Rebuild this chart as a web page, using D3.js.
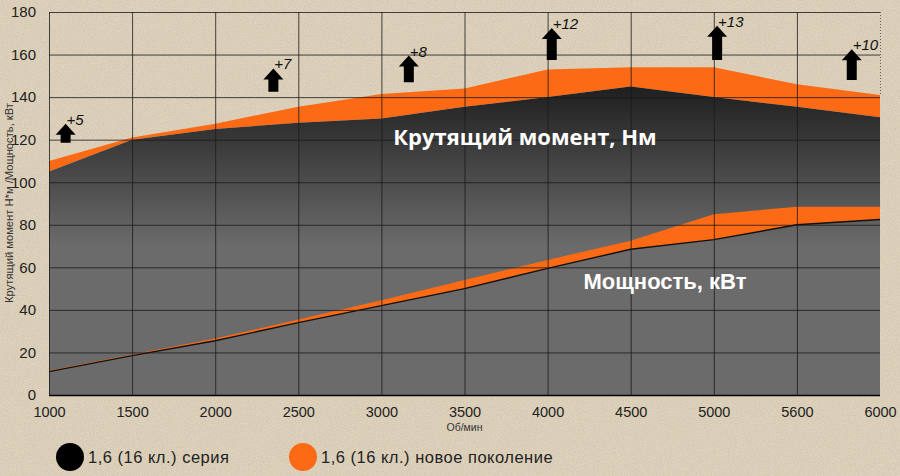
<!DOCTYPE html>
<html lang="ru">
<head>
<meta charset="utf-8">
<title>Крутящий момент и мощность</title>
<script src="https://d3js.org/d3.v7.min.js"></script>
<style>
  body { margin: 0; background: #e0d4be; }
  svg { display: block; }
</style>
</head>
<body>
<svg id="chart" width="900" height="476"></svg>
<script>
// rpm categories (equally spaced on the picture)
var rpm = ["1000", "1500", "2000", "2500", "3000", "3500", "4000", "4500", "5000", "5600", "6000"]
// torque, N*m
var torqueOld = [105, 120, 125, 128, 130, 135.5, 140, 145, 140, 135.5, 130.5]
var torqueNew = [110, 121, 127.5, 135.5, 141.5, 144, 153, 154, 154, 146, 141]
// power, kW
var powerOld = [11, 18.5, 25.5, 34, 42, 50, 59.5, 68.5, 73, 80, 82.5]
var powerNew = [11.5, 19, 26.5, 35.5, 44.5, 54, 63.5, 72.5, 85, 88.5, 88.5]
var yTicks = [0, 20, 40, 60, 80, 100, 120, 140, 160, 180]

// gain markers: position as fractional category index, arrow base / tip in chart units
var gainText = ["+5", "+7", "+8", "+12", "+13", "+10"]
var gainPos = [0.2, 2.7, 4.33, 6.05, 8.04, 9.66]
var gainBase = [118.5, 142.5, 147, 157.5, 157.5, 148]
var gainTip = [127.5, 153.5, 159.5, 172.5, 173.5, 162.5]

var legendNames = ["1,6 (16 кл.) серия", "1,6 (16 кл.) новое поколение"]
var legendColors = ["#000000", "#fd6a15"]

var orange = "#fd6a15"
var margin = {top: 12, left: 49, right: 20, bottom: 82}
var W = 900, H = 476

var svg = d3.select("#chart")
var defs = svg.append("defs")

// paper texture
var f = defs.append("filter").attr("id", "noise").attr("x", 0).attr("y", 0).attr("width", "100%").attr("height", "100%")
f.append("feTurbulence").attr("type", "fractalNoise").attr("baseFrequency", 0.85).attr("numOctaves", 2).attr("seed", 3)
f.append("feColorMatrix").attr("type", "matrix")
  .attr("values", "0 0 0 0 0.45  0 0 0 0 0.38  0 0 0 0 0.28  0 0 0 -1.4 1.0")

var grad = defs.append("linearGradient").attr("id", "dark")
  .attr("gradientUnits", "userSpaceOnUse")
  .attr("x1", 0).attr("x2", 0)

svg.append("rect").attr("width", W).attr("height", H).attr("fill", "#e0d4be")
svg.append("rect").attr("width", W).attr("height", H).attr("filter", "url(#noise)").attr("opacity", 0.4)

var x = d3.scalePoint().domain(rpm).range([margin.left, 880])
var y = d3.scaleLinear().domain([0, 180]).range([395, margin.top])
var step = x.step()
function xi(i) { return margin.left + i * step }

grad.attr("y1", y(146)).attr("y2", y(70))
grad.append("stop").attr("offset", 0).attr("stop-color", "#1e1e1e")
grad.append("stop").attr("offset", 1).attr("stop-color", "#6b6b6b")

var idx = rpm.map((d, i) => i)

// torque: series area (gray gradient) and the gain (orange)
svg.append("path")
  .attr("d", d3.area().x(i => x(rpm[i])).y0(i => y(torqueOld[i])).y1(i => y(torqueNew[i]))(idx))
  .attr("fill", orange)
svg.append("path")
  .attr("d", d3.area().x(i => x(rpm[i])).y0(y(0)).y1(i => y(torqueOld[i]))(idx))
  .attr("fill", "url(#dark)")

// power gain and series line
svg.append("path")
  .attr("d", d3.area().x(i => x(rpm[i])).y0(i => y(powerOld[i])).y1(i => y(powerNew[i]))(idx))
  .attr("fill", orange)
svg.append("path")
  .attr("d", d3.line().x(i => x(rpm[i])).y(i => y(powerOld[i]))(idx))
  .attr("fill", "none").attr("stroke", "#111").attr("stroke-width", 1.4)

// grid
var grid = svg.append("g").attr("stroke", "#1a1a1a").attr("stroke-opacity", 0.8).attr("stroke-width", 1)
grid.selectAll("line.h").data(yTicks).enter().append("line")
  .attr("x1", margin.left).attr("x2", 880)
  .attr("y1", d => y(d) + 0.5).attr("y2", d => y(d) + 0.5)
grid.selectAll("line.v").data(rpm.slice(0, -1)).enter().append("line")
  .attr("x1", d => x(d) + 0.5).attr("x2", d => x(d) + 0.5)
  .attr("y1", y(180)).attr("y2", y(0))
grid.append("line")
  .attr("x1", x("6000") + 0.5).attr("x2", x("6000") + 0.5)
  .attr("y1", y(180)).attr("y2", y(torqueNew[10]))
  .attr("stroke-dasharray", "1,2").attr("stroke-opacity", 0.6)
svg.append("line").attr("x1", margin.left).attr("x2", 880)
  .attr("y1", y(0) + 0.5).attr("y2", y(0) + 0.5).attr("stroke", "#000").attr("stroke-width", 1.5)

// axes labels
var yAxis = d3.axisLeft(y).tickValues(yTicks).tickSize(0).tickPadding(13)
svg.append("g").attr("transform", "translate(" + margin.left + ",0)").call(yAxis)
  .call(g => g.select(".domain").remove())
  .selectAll("text").attr("font-family", "Liberation Sans, Arial, sans-serif").attr("font-size", 15).attr("fill", "#222")

var xAxis = d3.axisBottom(x).tickSize(0).tickPadding(12)
svg.append("g").attr("transform", "translate(0," + y(0) + ")").call(xAxis)
  .call(g => g.select(".domain").remove())
  .selectAll("text").attr("font-family", "Liberation Sans, Arial, sans-serif").attr("font-size", 14.5).attr("fill", "#222")

svg.append("text").attr("x", x("3500")).attr("y", 431).attr("text-anchor", "middle")
  .attr("font-family", "Liberation Sans, Arial, sans-serif").attr("font-size", 10.5).attr("fill", "#333")
  .text("Об/мин")

svg.append("text").attr("transform", "translate(13,203) rotate(-90)").attr("text-anchor", "middle")
  .attr("font-family", "Liberation Sans, Arial, sans-serif").attr("font-size", 11.2).attr("fill", "#333")
  .text("Крутящий момент Н*м /Мощность, кВт")

// series captions
svg.append("text").attr("x", 525).attr("y", 145).attr("text-anchor", "middle")
  .attr("font-family", "Open Sans, sans-serif").attr("font-weight", "bold").attr("font-size", 22)
  .attr("fill", "#fff").text("Крутящий момент, Нм")
svg.append("text").attr("x", 665).attr("y", 289).attr("text-anchor", "middle")
  .attr("font-family", "Liberation Sans, Arial, sans-serif").attr("font-weight", "bold").attr("font-size", 22)
  .attr("fill", "#fff").text("Мощность, кВт")

// gain arrows
var gains = svg.append("g").selectAll("g").data(gainText).enter().append("g")
gains.append("path")
  .attr("d", (d, i) => {
    var cx = xi(gainPos[i]), yb = y(gainBase[i]), yt = y(gainTip[i])
    var head = 11
    return "M" + (cx - 5) + "," + yb + "L" + (cx - 5) + "," + (yt + head) + "L" + (cx - 10) + "," + (yt + head) +
      "L" + cx + "," + yt + "L" + (cx + 10) + "," + (yt + head) + "L" + (cx + 5) + "," + (yt + head) +
      "L" + (cx + 5) + "," + yb + "Z"
  })
  .attr("fill", "#000")
gains.append("text")
  .attr("x", (d, i) => xi(gainPos[i]) + 1)
  .attr("y", (d, i) => y(gainTip[i]) + 1)
  .attr("font-family", "Liberation Sans, Arial, sans-serif").attr("font-style", "italic").attr("font-size", 15)
  .attr("fill", "#111").text(d => d)

// legend
var legendX = [70, 303]
var lg = svg.append("g").selectAll("g").data(legendNames).enter().append("g")
  .attr("transform", (d, i) => "translate(" + legendX[i] + ",457)")
lg.append("circle").attr("r", 14).attr("fill", (d, i) => legendColors[i])
lg.append("text").attr("x", 18).attr("y", 6)
  .attr("font-family", "Liberation Sans, Arial, sans-serif").attr("font-size", 16.5).attr("fill", "#222")
  .attr("letter-spacing", 0.5)
  .text(d => d)
</script>
</body>
</html>
